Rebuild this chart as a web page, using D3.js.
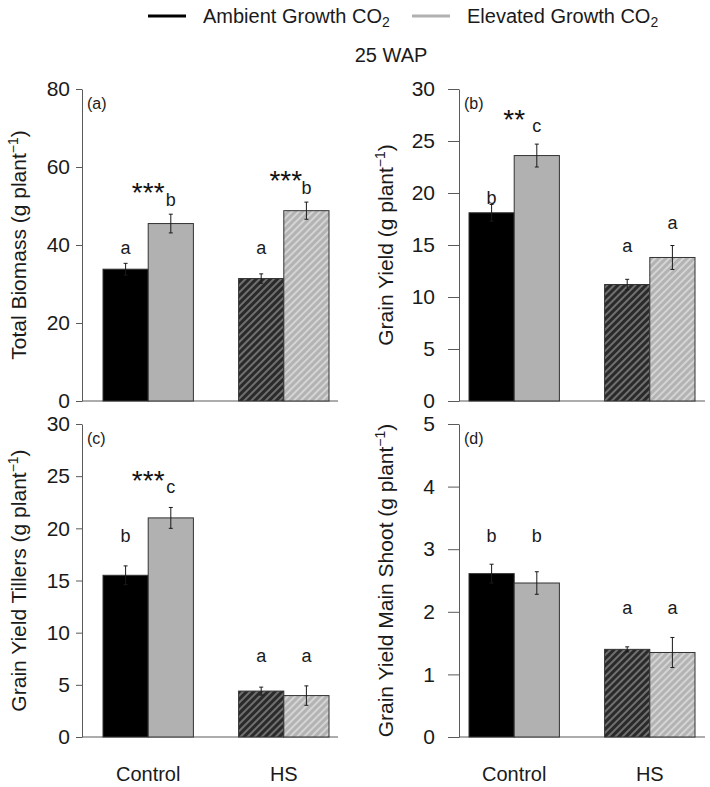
<!DOCTYPE html>
<html><head><meta charset="utf-8">
<script src="https://cdn.jsdelivr.net/npm/d3@7"></script>
<style>
body{margin:0;background:#fff}
svg{display:block;font-family:Arial,"Liberation Sans",sans-serif}
</style>
</head><body>
<svg id="chart" width="710" height="787"></svg>
<script>
// ---------- data ----------
const categories = ["Control", "HS"];
const seriesLabels = ["Ambient Growth CO", "Elevated Growth CO"];
const subtitle = "25 WAP";

// (a) Total Biomass
const biomassAmbient = [33.8, 31.4];
const biomassAmbientSE = [1.5, 1.2];
const biomassElevated = [45.5, 48.8];
const biomassElevatedSE = [2.4, 2.2];
const biomassLetters = [["a", "b"], ["a", "b"]];
const biomassLetterAt = [[37.7, 50.1], [37.7, 53.1]];
const biomassStars = ["***", "***"];
const biomassStarAt = [55.3, 58.4];

// (b) Grain Yield
const yieldAmbient = [18.1, 11.2];
const yieldAmbientSE = [0.8, 0.5];
const yieldElevated = [23.6, 13.8];
const yieldElevatedSE = [1.1, 1.15];
const yieldLetters = [["b", "c"], ["a", "a"]];
const yieldLetterAt = [[18.9, 25.9], [14.3, 16.5]];
const yieldStars = ["**", ""];
const yieldStarAt = [27.75, 0];

// (c) Grain Yield Tillers
const tillersAmbient = [15.5, 4.4];
const tillersAmbientSE = [0.9, 0.38];
const tillersElevated = [21.0, 3.97];
const tillersElevatedSE = [1.0, 0.93];
const tillersLetters = [["b", "c"], ["a", "a"]];
const tillersLetterAt = [[18.7, 23.4], [7.2, 7.2]];
const tillersStars = ["***", ""];
const tillersStarAt = [25.3, 0];

// (d) Grain Yield Main Shoot
const mainAmbient = [2.61, 1.40];
const mainAmbientSE = [0.15, 0.04];
const mainElevated = [2.46, 1.35];
const mainElevatedSE = [0.18, 0.24];
const mainLetters = [["b", "b"], ["a", "a"]];
const mainLetterAt = [[3.12, 3.12], [1.96, 1.96]];
const mainStars = ["", ""];
const mainStarAt = [0, 0];

const panelTags = ["(a)", "(b)", "(c)", "(d)"];
const yTitles = ["Total Biomass", "Grain Yield", "Grain Yield Tillers", "Grain Yield Main Shoot"];
const yMax = [80, 30, 30, 5];
const yStep = [20, 5, 5, 1];

// ---------- layout ----------
const svg = d3.select("#chart");
const cols = [
  {axisX: 82, barL: 103, barR: 329, end: 338, titleX: 19, tick: 6, pad: 6},
  {axisX: 459, barL: 469, barR: 695, end: 705, titleX: 386, tick: 11, pad: 13}
];
const rows = [{top: 89, bottom: 401}, {top: 424, bottom: 737}];

const panels = [
  {amb: biomassAmbient, ambSE: biomassAmbientSE, ele: biomassElevated, eleSE: biomassElevatedSE, letters: biomassLetters, letterAt: biomassLetterAt, stars: biomassStars, starAt: biomassStarAt, col: 0, row: 0},
  {amb: yieldAmbient, ambSE: yieldAmbientSE, ele: yieldElevated, eleSE: yieldElevatedSE, letters: yieldLetters, letterAt: yieldLetterAt, stars: yieldStars, starAt: yieldStarAt, col: 1, row: 0},
  {amb: tillersAmbient, ambSE: tillersAmbientSE, ele: tillersElevated, eleSE: tillersElevatedSE, letters: tillersLetters, letterAt: tillersLetterAt, stars: tillersStars, starAt: tillersStarAt, col: 0, row: 1},
  {amb: mainAmbient, ambSE: mainAmbientSE, ele: mainElevated, eleSE: mainElevatedSE, letters: mainLetters, letterAt: mainLetterAt, stars: mainStars, starAt: mainStarAt, col: 1, row: 1}
];

// patterns
const defs = svg.append("defs");
function hatch(id, base, stripe) {
  const p = defs.append("pattern").attr("id", id).attr("patternUnits", "userSpaceOnUse")
    .attr("width", 5).attr("height", 5).attr("patternTransform", "rotate(45)");
  p.append("rect").attr("width", 5).attr("height", 5).attr("fill", base);
  p.append("rect").attr("width", 2).attr("height", 5).attr("fill", stripe);
}
hatch("hatchDark", "#2a2a2a", "#707070");
hatch("hatchLight", "#b3b3b3", "#d4d4d4");

const fills = [["#000000", "#b1b1b1"], ["url(#hatchDark)", "url(#hatchLight)"]];
const axisColor = "#5a5a5a";
const textColor = "#1a1a1a";

panels.forEach((P, pi) => {
  const C = cols[P.col], R = rows[P.row];
  const g = svg.append("g");
  const y = d3.scaleLinear().domain([0, yMax[pi]]).range([R.bottom, R.top]);
  const x = d3.scaleBand().domain(categories).range([C.barL, C.barR]).paddingInner(1 / 3).paddingOuter(0);
  const xs = d3.scaleBand().domain([0, 1]).range([0, x.bandwidth()]);

  // y axis
  const ax = g.append("g").attr("transform", `translate(${C.axisX},0)`)
    .call(d3.axisLeft(y).tickValues(d3.range(0, yMax[pi] + yStep[pi] / 2, yStep[pi]))
      .tickSize(C.tick).tickSizeOuter(0).tickPadding(C.pad).tickFormat(d3.format("d")));
  ax.select(".domain").attr("stroke", axisColor);
  ax.selectAll(".tick line").attr("stroke", axisColor);
  ax.selectAll(".tick text").attr("font-size", 21).attr("fill", textColor).attr("font-family", "Arial, 'Liberation Sans', sans-serif");

  // x baseline
  g.append("line").attr("x1", C.axisX).attr("x2", C.end).attr("y1", y(0)).attr("y2", y(0))
    .attr("stroke", axisColor);

  // bars
  const series = [[P.amb, P.ambSE], [P.ele, P.eleSE]];
  categories.forEach((cat, ci) => {
    series.forEach(([vals, ses], si) => {
      const bx = x(cat) + xs(si), bw = xs.bandwidth();
      g.append("rect").attr("x", bx).attr("y", y(vals[ci])).attr("width", bw)
        .attr("height", y(0) - y(vals[ci])).attr("fill", fills[ci][si])
        .attr("stroke", "#333").attr("stroke-width", 1);
      const cx = bx + bw / 2;
      const e = g.append("g").attr("stroke", "#1a1a1a").attr("stroke-width", 1);
      e.append("line").attr("x1", cx).attr("x2", cx).attr("y1", y(vals[ci] - ses[ci])).attr("y2", y(vals[ci] + ses[ci]));
      [vals[ci] - ses[ci], vals[ci] + ses[ci]].forEach(v => {
        e.append("line").attr("x1", cx - 2).attr("x2", cx + 2).attr("y1", y(v)).attr("y2", y(v));
      });
      // letters
      g.append("text").attr("x", cx).attr("y", y(P.letterAt[ci][si])).attr("text-anchor", "middle")
        .attr("font-size", 18).attr("fill", textColor).text(P.letters[ci][si]);
    });
    if (P.stars[ci]) {
      const fs = 28;
      g.append("text").attr("x", x(cat) + x.bandwidth() / 2 + (ci === 0 ? 0 : 2))
        .attr("y", y(P.starAt[ci]) + fs * 0.6).attr("text-anchor", "middle")
        .attr("font-size", fs).attr("fill", "#111").text(P.stars[ci]);
    }
    if (P.row === 1) {
      g.append("text").attr("x", x(cat) + x.bandwidth() / 2).attr("y", 781)
        .attr("text-anchor", "middle").attr("font-size", 20).attr("fill", textColor).text(cat);
    }
  });

  // panel tag
  g.append("text").attr("x", C.axisX + 5).attr("y", R.top + 20).attr("font-size", 16)
    .attr("fill", textColor).text(panelTags[pi]);

  // y title
  const t = g.append("text").attr("transform", `translate(${C.titleX},${(R.top + R.bottom) / 2}) rotate(-90)`)
    .attr("text-anchor", "middle").attr("dy", "0.35em").attr("font-size", 21).attr("fill", textColor);
  t.append("tspan").text(yTitles[pi] + " (g plant");
  t.append("tspan").attr("font-size", 14).attr("dy", -8).text("\u22121");
  t.append("tspan").attr("dy", 8).text(")");
});

// legend
const legendX = [148, 412];
const legendColors = ["#000000", "#b1b1b1"];
seriesLabels.forEach((lab, i) => {
  svg.append("line").attr("x1", legendX[i]).attr("x2", legendX[i] + 38).attr("y1", 16).attr("y2", 16)
    .attr("stroke", legendColors[i]).attr("stroke-width", 3);
  const t = svg.append("text").attr("x", legendX[i] + 55).attr("y", 23).attr("font-size", 20).attr("fill", textColor);
  t.append("tspan").text(lab);
  t.append("tspan").attr("font-size", 14).attr("dy", 4).text("2");
});
svg.append("text").attr("x", 391).attr("y", 62).attr("text-anchor", "middle").attr("font-size", 20)
  .attr("fill", textColor).text(subtitle);
</script>
</body></html>
